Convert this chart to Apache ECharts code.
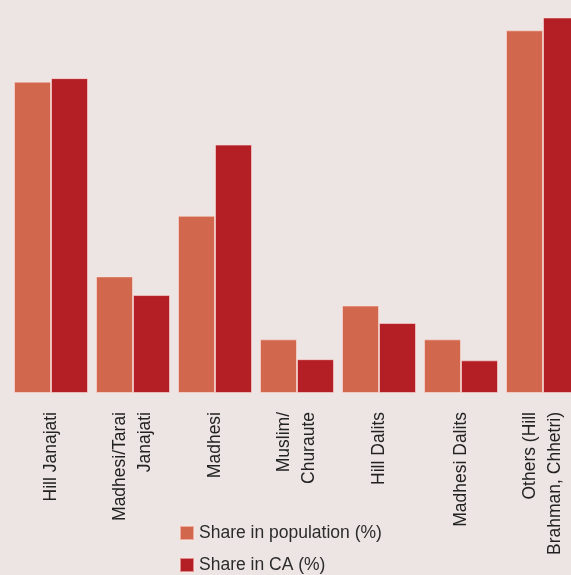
<!DOCTYPE html>
<html>
<head>
<meta charset="utf-8">
<script src="https://cdn.jsdelivr.net/npm/echarts@6/dist/echarts.min.js"></script>
<style>
html,body{margin:0;padding:0;background:#EDE5E3;}
#c{width:571px;height:575px;}
</style>
</head>
<body>
<div id="c"></div>
<script>
const categories = ["Hill Janajati", "Madhesi/Tarai\nJanajati", "Madhesi", "Muslim/\nChuraute", "Hill Dalits", "Madhesi Dalits", "Others (Hill\nBrahman, Chhetri)"];
const populationShare = [26.7, 10.0, 15.2, 4.6, 7.5, 4.6, 31.1];
const caShare = [27.0, 8.4, 21.3, 2.9, 6.0, 2.8, 32.2];
const seriesNames = ["Share in population (%)", "Share in CA (%)"];

const FONT = '"Liberation Sans", Arial, Helvetica, sans-serif';
const chart = echarts.init(document.getElementById('c'));
const legendCommon = {
  itemWidth: 14, itemHeight: 14, icon: 'rect', left: 179, padding: 0, itemGap: 0,
  textStyle: {fontFamily: FONT, fontSize: 17.5, color: '#2b2b2b'}
};
chart.setOption({
  backgroundColor: '#EDE5E3',
  animation: false,
  grid: {left: 10, width: 574, top: 0, height: 393, containLabel: false, outerBoundsMode: 'none'},
  xAxis: {
    type: 'category',
    data: categories,
    axisLine: {show: false},
    axisTick: {show: false},
    axisLabel: {
      interval: 0, rotate: 90, margin: 19,
      fontFamily: FONT, fontSize: 17.5, lineHeight: 25, color: '#222'
    }
  },
  yAxis: {
    type: 'value', min: 0, max: 33.7,
    show: false, splitLine: {show: false}
  },
  legend: [
    Object.assign({top: 524, data: [seriesNames[0]]}, legendCommon),
    Object.assign({top: 556, data: [seriesNames[1]]}, legendCommon)
  ],
  series: [
    {name: seriesNames[0], type: 'bar', data: populationShare, barWidth: 37, barGap: 0,
     itemStyle: {color: '#D1684E', borderColor: 'rgba(255,230,225,0.55)', borderWidth: 1}},
    {name: seriesNames[1], type: 'bar', data: caShare, barWidth: 37, barGap: 0,
     itemStyle: {color: '#B41F26', borderColor: 'rgba(255,230,225,0.55)', borderWidth: 1}}
  ]
});
</script>
</body>
</html>
